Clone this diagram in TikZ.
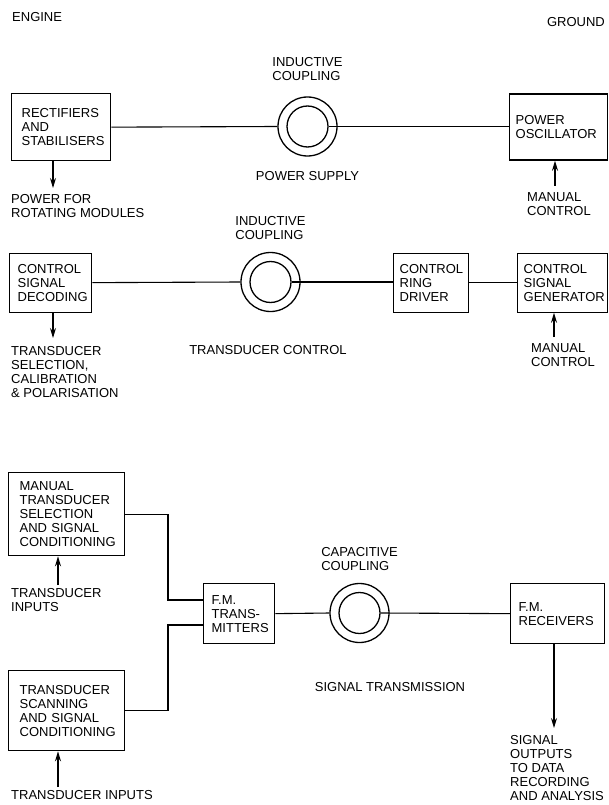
\documentclass[tikz,border=0pt]{standalone}
\usepackage{fontspec}
\setmainfont{Liberation Sans}
\usepackage{tikz}
\usetikzlibrary{arrows.meta,positioning,calc}

\begin{document}
\begin{tikzpicture}[
    x=1pt, y=1pt,
    every node/.style={font=\fontsize{13}{14}\selectfont, inner sep=0pt},
    unit/.style={rectangle, draw, line width=1.3pt, anchor=north west, align=left},
    ring/.style={circle, draw, line width=1.3pt, minimum size=59pt},
    core/.style={circle, draw, line width=1.3pt, minimum size=41pt},
    note/.style={anchor=north west, align=left},
    wire/.style={line width=1.1pt},
    arrow/.style={-{Stealth[length=10pt, width=6pt]}, line width=1.1pt},
]
\useasboundingbox (0,0) rectangle (608,-805);

% --- Side headings ---
\node[note] (engine) at (12,-12.5) {ENGINE};
\node[note, anchor=north east] (ground) at (605,-17.5) {GROUND};

% --- Power supply ---
\node[unit, minimum width=99pt, minimum height=67pt, text width=79pt] (rect) at (11,-93) {RECTIFIERS\\AND\\STABILISERS};
\node[ring] (pwrring) at (307.5,-126.5) {};
\node[core] (pwrcore) at (pwrring) {};
\node[unit, minimum width=98pt, minimum height=66pt, text width=86pt] (osc) at (509,-93.5) {POWER\\OSCILLATOR};
\node[above=16pt of pwrring, align=left] (pwrtype) {INDUCTIVE\\COUPLING};
\node[below=15pt of pwrring] (pwrcap) {POWER SUPPLY};

\draw[wire] (rect.east) -- (pwrring.west);
\draw[wire] (pwrcore.east) -- (pwrcore.east -| osc.west);

\coordinate (pwrout) at (53,-188);
\draw[arrow] (rect.south -| pwrout) -- (pwrout);
\node[note] (pwrlbl) at (11,-194.5) {POWER FOR\\ROTATING MODULES};
\coordinate (oscin) at (555,-186);
\draw[arrow] (oscin) -- (oscin |- osc.south);
\node[note] (osclbl) at (527,-192.5) {MANUAL\\CONTROL};

% --- Transducer control ---
\node[unit, minimum width=82pt, minimum height=59pt, text width=66pt] (dec) at (9,-252.5) {CONTROL\\SIGNAL\\DECODING};
\node[ring] (ctlring) at (270.5,-282) {};
\node[core] (ctlcore) at (ctlring) {};
\node[unit, minimum width=75pt, minimum height=59pt, text width=63pt] (drv) at (393,-252.5) {CONTROL\\RING\\DRIVER};
\node[unit, minimum width=90pt, minimum height=59pt, text width=78pt] (gen) at (517,-252.5) {CONTROL\\SIGNAL\\GENERATOR};
\node[above=12pt of ctlring, align=left] (ctltype) {INDUCTIVE\\COUPLING};
\node (ctlcap) at (268,-350) {TRANSDUCER CONTROL};

\draw[wire] (dec.east) -- (ctlring.west);
\draw[wire] (ctlcore.east) -- (ctlcore.east -| drv.west);
\draw[wire] (drv.east) -- (gen.west);

\coordinate (decout) at (53,-338);
\draw[arrow] (dec.south -| decout) -- (decout);
\node[note] (declbl) at (11,-346.5) {TRANSDUCER\\SELECTION,\\CALIBRATION\\\& POLARISATION};
\coordinate (genin) at (554,-337);
\draw[arrow] (genin) -- (genin |- gen.south);
\node[note] (genlbl) at (531,-343.5) {MANUAL\\CONTROL};

% --- Signal transmission ---
\node[unit, minimum width=116pt, minimum height=83pt, text width=94pt] (man) at (8,-472) {MANUAL\\TRANSDUCER\\SELECTION\\AND SIGNAL\\CONDITIONING};
\node[unit, minimum width=116pt, minimum height=80pt, text width=94pt] (scan) at (8,-670) {TRANSDUCER\\SCANNING\\AND SIGNAL\\CONDITIONING};
\node[unit, minimum width=71pt, minimum height=60pt, text width=55pt] (fmt) at (203,-583) {F.M.\\TRANS-\\MITTERS};
\node[ring] (sigring) at (359.5,-613) {};
\node[core] (sigcore) at (sigring) {};
\node[unit, minimum width=94pt, minimum height=60pt, text width=78pt] (fmr) at (510,-583) {F.M.\\RECEIVERS};
\node[above=12pt of sigring, align=left] (sigtype) {CAPACITIVE\\COUPLING};
\node (sigcap) at (390,-687) {SIGNAL TRANSMISSION};

\coordinate (manjoin) at (168,-600);
\coordinate (scanjoin) at (168,-625);
\draw[wire] (man.east) -| (manjoin) -- (manjoin -| fmt.west);
\draw[wire] (scan.east) -| (scanjoin) -- (scanjoin -| fmt.west);
\draw[wire] (fmt.east) -- (sigring.west);
\draw[wire] (sigcore.east) -- (fmr.west);

\coordinate (manin) at (58,-585);
\draw[arrow] (manin) -- (manin |- man.south);
\node[note] (manlbl) at (11,-588.5) {TRANSDUCER\\INPUTS};
\coordinate (scanin) at (58,-787);
\draw[arrow] (scanin) -- (scanin |- scan.south);
\node[note] (scanlbl) at (11,-790.5) {TRANSDUCER INPUTS};
\coordinate (fmrout) at (554,-728);
\draw[arrow] (fmr.south -| fmrout) -- (fmrout);
\node[note] (fmrlbl) at (510,-735.5) {SIGNAL\\OUTPUTS\\TO DATA\\RECORDING\\AND ANALYSIS};

\end{tikzpicture}
\end{document}
